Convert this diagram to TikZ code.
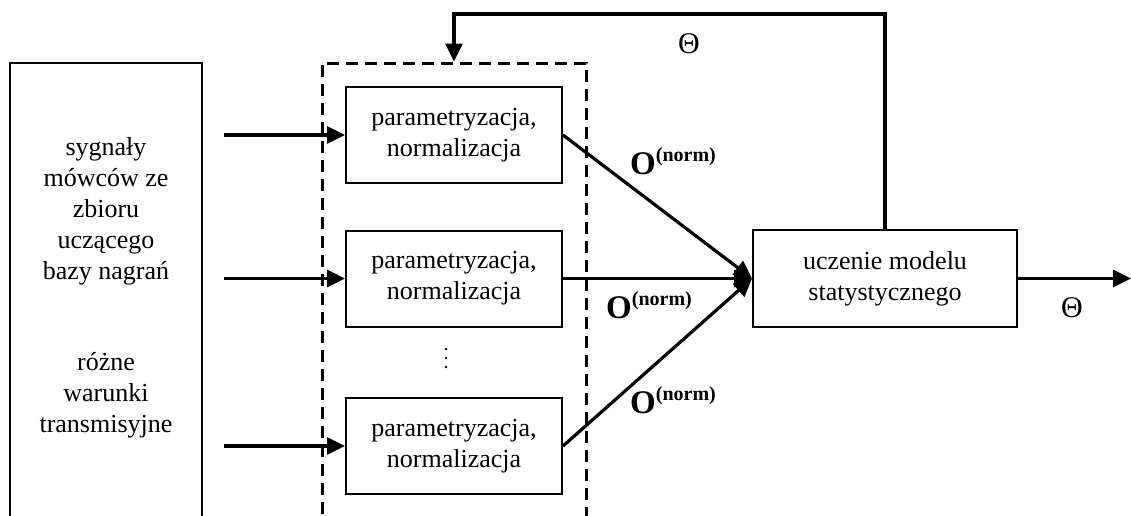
\documentclass[tikz,border=0pt]{standalone}
\usepackage{fontspec}
\setmainfont{Liberation Serif}
\usetikzlibrary{arrows.meta}
\tikzset{
  box/.style={draw, line width=2pt, minimum width=216pt, minimum height=96pt, align=center, inner sep=0pt, font=\fontsize{26}{31}\selectfont},
  arr/.style={line width=3.2pt, -{Triangle[length=18pt,width=17pt]}},
  dashbox/.style={draw, line width=3pt, dash pattern=on 12pt off 7pt, inner sep=0pt},
  txt/.style={align=center, inner sep=0pt, font=\fontsize{26}{31}\selectfont},
  olab/.style={anchor=base west, inner sep=0pt},
  theta/.style={inner sep=0pt, font=\fontsize{30}{31}\selectfont},
}
\newcommand{\onorm}{{\fontsize{33}{33}\selectfont\bfseries O}{\fontsize{20}{20}\selectfont\bfseries\raisebox{13pt}{(norm)}}}
\begin{document}
\begin{tikzpicture}[x=1pt,y=-1pt]
\useasboundingbox (0,0) rectangle (1131,515);
% left source box (open beyond the bottom edge)
\node[draw, line width=2pt, minimum width=192pt, minimum height=477pt, inner sep=0pt] (src) at (106,301.5) {};
\node[txt] (srct1) at (106,211) {sygnały\\mówców ze\\zbioru\\uczącego\\bazy nagrań};
\node[txt] (srct2) at (106,395) {różne\\warunki\\transmisyjne};
% dashed group
\node[dashbox, minimum width=264pt, minimum height=477pt] (dash) at (454,301.5) {};
% parametrization boxes
\node[box] (p1) at (454,135) {parametryzacja,\\normalizacja};
\node[box] (p2) at (454,278.5) {parametryzacja,\\normalizacja};
\node[box] (p3) at (454,446) {parametryzacja,\\normalizacja};
% dots
\fill (446,349) circle (1.4pt);
\fill (446,358) circle (1.4pt);
\fill (446,367) circle (1.4pt);
% learning box
\node[box, minimum width=264pt, minimum height=97pt] (learn) at (885,278.5) {uczenie modelu\\statystycznego};
% inputs
\coordinate (in1) at (224,135);
\coordinate (in2) at (224,278.5);
\coordinate (in3) at (224,446);
\draw[arr] (in1) -- (p1.west);
\draw[arr] (in2) -- (p2.west);
\draw[arr] (in3) -- (p3.west);
% to learning
\draw[arr] (p1.east) -- (learn.west);
\draw[arr] (p2.east) -- (learn.west);
\draw[arr] (p3.east) -- (learn.west);
% output
\coordinate (out) at (1131,278.5);
\draw[arr] (learn.east) -- (out);
% feedback
\coordinate (fb) at (454,14);
\draw[arr] (learn.north) |- (fb) -- (dash.north);
% labels
\node[olab] (o1) at (630,174) {\onorm};
\node[olab] (o2) at (606,318) {\onorm};
\node[olab] (o3) at (630,413) {\onorm};
\node[theta] (th1) at (689,44) {Θ};
\node[theta] (th2) at (1072,308) {Θ};
\end{tikzpicture}
\end{document}
